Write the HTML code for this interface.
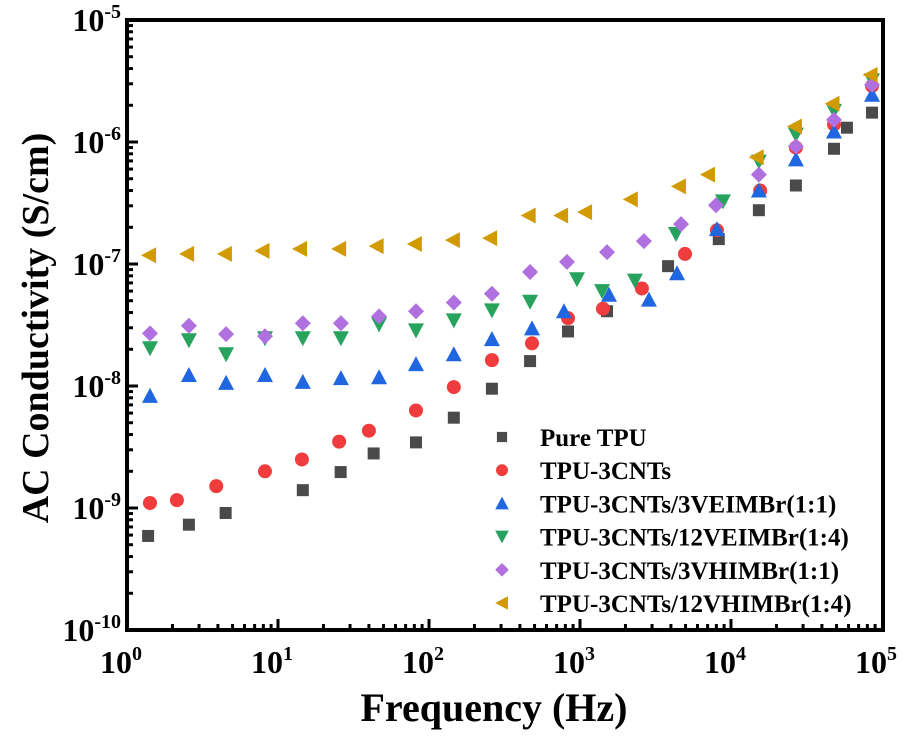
<!DOCTYPE html>
<html><head><meta charset="utf-8">
<style>
html,body{margin:0;padding:0;background:#fff;}
svg{display:block;font-family:"Liberation Serif",serif;font-weight:bold;}
</style></head>
<body>
<svg id="chart" width="910" height="740" viewBox="0 0 910 740" xmlns="http://www.w3.org/2000/svg">
<g id="ticks"></g>
<g id="marks"></g>
<rect x="127" y="20" width="756" height="610" fill="none" stroke="#000" stroke-width="4"/>
<text x="494" y="721" font-size="40" text-anchor="middle">Frequency (Hz)</text>
<text transform="translate(48,328) rotate(-90)" font-size="38" text-anchor="middle">AC Conductivity (S/cm)</text>
<g id="legend"></g>
</svg>
<script>
const xDecades = [0,1,2,3,4,5];
const yDecades = [-5,-6,-7,-8,-9,-10];
const seriesNames = ["Pure TPU","TPU-3CNTs","TPU-3CNTs/3VEIMBr(1:1)","TPU-3CNTs/12VEIMBr(1:4)","TPU-3CNTs/3VHIMBr(1:1)","TPU-3CNTs/12VHIMBr(1:4)"];
const seriesColors = ["#4a4a4a","#f03c3c","#1f66e0","#27a35e","#b070e0","#d19a00"];
const seriesShapes = ["square","circle","up","down","diamond","left"];

const freqPure = [1.38,2.57,4.5,14.6,26,43,82,146,261,467,833,1510,3830,8300,15300,26900,48100,58600,85900];
const condPure = [5.9e-10,7.3e-10,9.1e-10,1.4e-9,1.97e-9,2.8e-9,3.45e-9,5.5e-9,9.5e-9,1.6e-8,2.8e-8,4.1e-8,9.6e-8,1.6e-7,2.76e-7,4.4e-7,8.8e-7,1.31e-6,1.74e-6];
const freqCNT = [1.42,2.14,3.9,8.2,14.4,25.4,40,82,146,261,481,833,1420,2570,4960,8070,15600,26900,48100,85900];
const condCNT = [1.1e-9,1.16e-9,1.51e-9,2.0e-9,2.5e-9,3.5e-9,4.3e-9,6.3e-9,9.8e-9,1.63e-8,2.24e-8,3.6e-8,4.3e-8,6.3e-8,1.21e-7,1.89e-7,4.0e-7,9.0e-7,1.39e-6,2.88e-6];
const freqVE3 = [1.42,2.57,4.53,8.2,14.6,26.1,46.7,82,146,261,481,783,1556,2860,4390,8070,15300,26900,48100,85900];
const condVE3 = [8.3e-9,1.23e-8,1.06e-8,1.23e-8,1.08e-8,1.16e-8,1.18e-8,1.51e-8,1.82e-8,2.42e-8,2.97e-8,4.1e-8,5.6e-8,5.1e-8,8.4e-8,1.93e-7,4.0e-7,7.2e-7,1.22e-6,2.44e-6];
const freqVE12 = [1.42,2.57,4.53,8.2,14.6,26.1,46.7,82,146,261,467,955,1400,2310,4320,8850,15300,26900,48100,85900];
const condVE12 = [2.04e-8,2.37e-8,1.82e-8,2.46e-8,2.46e-8,2.46e-8,3.2e-8,2.86e-8,3.45e-8,4.17e-8,4.9e-8,7.5e-8,6.0e-8,7.3e-8,1.76e-7,3.26e-7,6.9e-7,1.15e-6,1.8e-6,3.2e-6];
const freqVH3 = [1.42,2.57,4.53,8.2,14.6,26.1,46.7,82,146,261,467,820,1510,2650,4670,7950,15300,26900,48100,85900];
const condVH3 = [2.7e-8,3.12e-8,2.66e-8,2.56e-8,3.27e-8,3.27e-8,3.72e-8,4.1e-8,4.84e-8,5.7e-8,8.6e-8,1.04e-7,1.25e-7,1.54e-7,2.12e-7,3.03e-7,5.4e-7,9.2e-7,1.52e-6,2.94e-6];
const freqVH12 = [1.4,2.5,4.45,7.9,14,25.4,45,80.6,144,254,457,750,1080,2170,4520,7040,14800,26500,47000,84000];
const condVH12 = [1.18e-7,1.21e-7,1.21e-7,1.28e-7,1.33e-7,1.33e-7,1.4e-7,1.46e-7,1.57e-7,1.63e-7,2.5e-7,2.5e-7,2.66e-7,3.39e-7,4.33e-7,5.4e-7,7.5e-7,1.34e-6,2.06e-6,3.55e-6];

const allFreq = [freqPure,freqCNT,freqVE3,freqVE12,freqVH3,freqVH12];
const allCond = [condPure,condCNT,condVE3,condVE12,condVH3,condVH12];

const NS="http://www.w3.org/2000/svg";
const X0=127,X1=882,Y0=630,Y1=20;
function xScale(f){return X0+(Math.log10(f)-0)/5*(X1-X0);}
function yScale(v){return Y0-(Math.log10(v)+10)/5*(Y0-Y1);}
function mk(tag,attrs,parent){const e=document.createElementNS(NS,tag);for(const k in attrs)e.setAttribute(k,attrs[k]);parent.appendChild(e);return e;}

const ticks=document.getElementById('ticks');
for(let d=0;d<5;d++){for(let m=1;m<10;m++){
  const x=xScale(Math.pow(10,d)*m);const len=m===1?11:6;
  const t=mk('line',{x1:x,x2:x,y1:Y0,y2:Y0-len,stroke:'#000','stroke-width':3},ticks);
  
  
}}
for(let d=-10;d<-5;d++){for(let m=1;m<10;m++){
  const y=yScale(Math.pow(10,d)*m);const len=m===1?11:6;
  const t=mk('line',{x1:X0,x2:X0+len,y1:y,y2:y,stroke:'#000','stroke-width':3},ticks);
  
  
}}
xDecades.forEach(d=>{
  const t=mk('text',{x:xScale(Math.pow(10,d))-6,y:673,'font-size':32,'text-anchor':'middle'},ticks);
  
  
  t.innerHTML='10<tspan dy="-13" font-size="20">'+d+'</tspan>';
});
yDecades.forEach(d=>{
  const t=mk('text',{x:121,y:yScale(Math.pow(10,d))+11,'font-size':32,'text-anchor':'end'},ticks);
  
  
  t.innerHTML='10<tspan dy="-13" font-size="20">'+d+'</tspan>';
});

function marker(shape,cx,cy,color,parent,s){
  s=s||1;let e;
  if(shape==='square')e=mk('rect',{x:cx-6*s,y:cy-6*s,width:12*s,height:12*s,fill:color},parent);
  else if(shape==='circle')e=mk('circle',{cx:cx,cy:cy,r:7*s,fill:color},parent);
  else if(shape==='up')e=mk('polygon',{points:`${cx},${cy-8*s} ${cx+8*s},${cy+7*s} ${cx-8*s},${cy+7*s}`,fill:color},parent);
  else if(shape==='down')e=mk('polygon',{points:`${cx},${cy+8*s} ${cx+8*s},${cy-7*s} ${cx-8*s},${cy-7*s}`,fill:color},parent);
  else if(shape==='diamond')e=mk('polygon',{points:`${cx},${cy-8*s} ${cx+8*s},${cy} ${cx},${cy+8*s} ${cx-8*s},${cy}`,fill:color},parent);
  else e=mk('polygon',{points:`${cx-8*s},${cy} ${cx+7*s},${cy-8*s} ${cx+7*s},${cy+8*s}`,fill:color},parent);
  return e;
}
const marks=document.getElementById('marks');
allFreq.forEach((fs,i)=>{
  const g=mk('g',{},marks);
  
  
  fs.forEach((f,j)=>{
    const p=marker(seriesShapes[i],xScale(f),yScale(allCond[i][j]),seriesColors[i],g);
    
    
  });
});
const legend=document.getElementById('legend');
seriesNames.forEach((n,i)=>{
  const y=437+i*33.2;
  const m=marker(seriesShapes[i],502,y,seriesColors[i],legend,0.85);
  
  
  const t=mk('text',{x:540,y:y+9,'font-size':25},legend);
  
  
  t.textContent=n;
});
</script>
</body></html>
